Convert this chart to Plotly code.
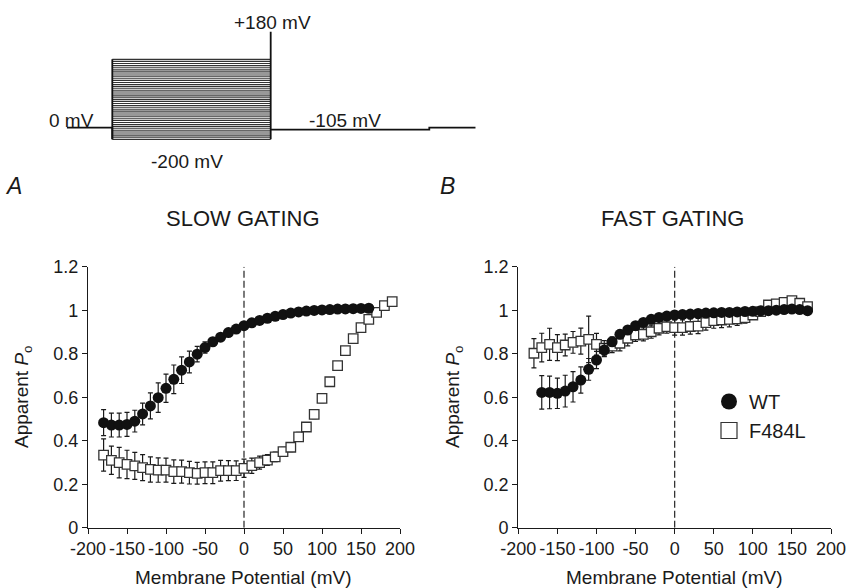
import plotly.graph_objects as go

W, H = 859, 588
FONT = "Liberation Sans, Arial, sans-serif"
INK = "#1a1a1a"

# ---------------- data ----------------
v_A_wt = list(range(-180, 170, 10))
po_A_wt = [0.483, 0.472, 0.472, 0.475, 0.49, 0.523, 0.56, 0.598, 0.641, 0.682, 0.724, 0.762,
           0.798, 0.828, 0.855, 0.876, 0.897, 0.913, 0.929, 0.942, 0.953, 0.963, 0.972, 0.98,
           0.987, 0.992, 0.996, 0.999, 1.001, 1.003, 1.005, 1.006, 1.007, 1.008, 1.009]
err_A_wt = [0.06, 0.055, 0.055, 0.055, 0.05, 0.05, 0.06, 0.068, 0.065, 0.066, 0.061, 0.05,
            0.036, 0.026, 0.018, 0.012, 0.01, 0.008, 0.008, 0.006, 0.006, 0.005, 0.005, 0.005,
            0.005, 0.005, 0.005, 0.005, 0.005, 0.005, 0.005, 0.005, 0.005, 0.005, 0.005]

v_A_mut = list(range(-180, 200, 10))
po_A_mut = [0.334, 0.31, 0.299, 0.291, 0.284, 0.276, 0.268, 0.265, 0.265, 0.258, 0.258, 0.253,
            0.25, 0.253, 0.253, 0.262, 0.262, 0.262, 0.273, 0.285, 0.299, 0.311, 0.326, 0.35,
            0.37, 0.418, 0.463, 0.521, 0.595, 0.671, 0.745, 0.814, 0.869, 0.92, 0.958, 0.99,
            1.021, 1.039]
err_A_mut = [0.074, 0.065, 0.07, 0.065, 0.062, 0.06, 0.058, 0.056, 0.055, 0.054, 0.053, 0.052,
             0.05, 0.05, 0.05, 0.048, 0.046, 0.045, 0.042, 0.035, 0.03, 0.025, 0.022, 0.02,
             0.02, 0.02, 0.02, 0.02, 0.02, 0.018, 0.016, 0.015, 0.012, 0.01, 0.01, 0.01, 0.01, 0.01]

v_B_wt = list(range(-170, 180, 10))
po_B_wt = [0.622, 0.622, 0.618, 0.628, 0.648, 0.679, 0.728, 0.771, 0.817, 0.855, 0.889, 0.909,
           0.929, 0.944, 0.958, 0.967, 0.973, 0.978, 0.98, 0.982, 0.985, 0.987, 0.988, 0.99,
           0.99, 0.992, 0.994, 0.995, 0.997, 0.998, 1.0, 1.003, 1.005, 1.003, 0.998]
err_B_wt = [0.077, 0.075, 0.07, 0.073, 0.07, 0.06, 0.05, 0.04, 0.03, 0.022, 0.018, 0.015,
            0.012, 0.01, 0.01, 0.008, 0.008, 0.006, 0.006, 0.006, 0.006, 0.006, 0.006, 0.006,
            0.006, 0.006, 0.006, 0.006, 0.006, 0.006, 0.006, 0.006, 0.006, 0.006, 0.006]

v_B_mut = list(range(-180, 180, 10))
po_B_mut = [0.802, 0.828, 0.843, 0.828, 0.84, 0.852, 0.858, 0.866, 0.843, 0.825, 0.835, 0.848,
            0.871, 0.886, 0.889, 0.901, 0.917, 0.924, 0.92, 0.92, 0.925, 0.927, 0.943, 0.952,
            0.955, 0.958, 0.96, 0.966, 0.978, 0.993, 1.024, 1.029, 1.036, 1.044, 1.032, 1.016]
err_B_mut = [0.067, 0.066, 0.074, 0.06, 0.05, 0.05, 0.06, 0.107, 0.05, 0.035, 0.03, 0.035,
             0.035, 0.03, 0.03, 0.03, 0.03, 0.03, 0.035, 0.035, 0.035, 0.035, 0.035, 0.035,
             0.035, 0.035, 0.03, 0.025, 0.02, 0.015, 0.01, 0.01, 0.01, 0.01, 0.01, 0.01]

x_ticks = [-200, -150, -100, -50, 0, 50, 100, 150, 200]
x_ticklabels = ["-200", "-150", "-100", "-50", "0", "50", "100", "150", "200"]
y_ticks = [0, 0.2, 0.4, 0.6, 0.8, 1.0, 1.2]
y_ticklabels = ["0", "0.2", "0.4", "0.6", "0.8", "1", "1.2"]

# voltage protocol (schematic drawing units)
proto_steps_mV = list(range(-200, 190, 10))      # test pulses
proto_time = [0, 45.6, 204, 362.6, 409]          # segment boundaries
proto_hold_level = 22.3                           # 0 mV holding
proto_tail_level = 20.3                           # -105 mV tail
proto_step_bottom = 10.7                          # -200 mV
proto_step_top = 90.7                             # top step
proto_spike_top = 118.3                           # +180 mV


def px(x):
    return x / W


def py(y):
    return 1 - y / H


fig = go.Figure()

# ---------- protocol ----------
span = proto_steps_mV[-1] - proto_steps_mV[0]
sx, sy = [], []
for v in proto_steps_mV:
    lvl = proto_step_bottom + (v - proto_steps_mV[0]) / span * (proto_step_top - proto_step_bottom)
    sx += [proto_time[1], proto_time[2], None]
    sy += [lvl, lvl, None]
fig.add_trace(go.Scatter(x=sx, y=sy, mode="lines", line=dict(color="#333", width=1.15),
                         xaxis="x3", yaxis="y3", showlegend=False, hoverinfo="skip"))
outline_x = [proto_time[0], proto_time[1], proto_time[1], None,
             proto_time[1], proto_time[1], None,
             proto_time[2], proto_time[2], None,
             proto_time[2], proto_time[3], proto_time[3], proto_time[4]]
outline_y = [proto_hold_level, proto_hold_level, proto_step_bottom, None,
             proto_step_bottom, proto_step_top, None,
             proto_step_bottom, proto_spike_top, None,
             proto_tail_level, proto_tail_level, proto_hold_level, proto_hold_level]
fig.add_trace(go.Scatter(x=outline_x, y=outline_y, mode="lines",
                         line=dict(color="#111", width=1.8),
                         xaxis="x3", yaxis="y3", showlegend=False, hoverinfo="skip"))

# ---------- data panels ----------
def add_panel(xa, ya, v_mut, po_mut, e_mut, v_wt, po_wt, e_wt):
    fig.add_trace(go.Scatter(x=[0, 0], y=[0, 1.2], mode="lines",
                             line=dict(color="#333", width=1.3, dash="7px,3px"),
                             xaxis=xa, yaxis=ya, showlegend=False, hoverinfo="skip"))
    fig.add_trace(go.Scatter(
        x=v_mut, y=po_mut, mode="markers", xaxis=xa, yaxis=ya, showlegend=False,
        marker=dict(symbol="square", size=9.5, color="white", line=dict(color="#333", width=1.3)),
        error_y=dict(type="data", array=e_mut, color="#1a1a1a", thickness=1.2, width=2.5)))
    fig.add_trace(go.Scatter(
        x=v_wt, y=po_wt, mode="markers", xaxis=xa, yaxis=ya, showlegend=False,
        marker=dict(symbol="circle", size=11, color="#111", line=dict(width=0)),
        error_y=dict(type="data", array=e_wt, color="#1a1a1a", thickness=1.2, width=2.5)))


add_panel("x", "y", v_A_mut, po_A_mut, err_A_mut, v_A_wt, po_A_wt, err_A_wt)
add_panel("x2", "y2", v_B_mut, po_B_mut, err_B_mut, v_B_wt, po_B_wt, err_B_wt)

# legend entries
fig.add_trace(go.Scatter(x=[None], y=[None], mode="markers", name="WT", xaxis="x2", yaxis="y2",
                         marker=dict(symbol="circle", size=16, color="#111")))
fig.add_trace(go.Scatter(x=[None], y=[None], mode="markers", name="F484L", xaxis="x2", yaxis="y2",
                         marker=dict(symbol="square", size=16, color="white",
                                     line=dict(color="#333", width=1.2))))

ydom = [py(527.7), py(266.7)]
ax_common = dict(showline=True, linecolor=INK, linewidth=1.2, ticks="outside", ticklen=5,
                 tickwidth=1.2, tickcolor=INK, showgrid=False, zeroline=False,
                 automargin=False, tickangle=0,
                 tickfont=dict(family=FONT, size=18, color=INK))
xax = dict(ax_common, range=[-200, 200], tickvals=x_ticks, ticktext=x_ticklabels)
yax = dict(ax_common, range=[0, 1.2], tickvals=y_ticks, ticktext=y_ticklabels, domain=ydom)

fig.update_layout(
    width=W, height=H, margin=dict(l=0, r=0, t=0, b=0, autoexpand=False),
    paper_bgcolor="white", plot_bgcolor="white",
    xaxis=dict(xax, domain=[px(88), px(400)], anchor="y"),
    yaxis=dict(yax, anchor="x"),
    xaxis2=dict(xax, domain=[px(518.3), px(831)], anchor="y2"),
    yaxis2=dict(yax, anchor="x2"),
    xaxis3=dict(domain=[px(66.7), px(475.7)], range=[0, 409], visible=False, anchor="y3"),
    yaxis3=dict(domain=[py(150), py(30)], range=[0, 120], visible=False, anchor="x3"),
    showlegend=True,
    legend=dict(x=px(709), y=py(382), xanchor="left", yanchor="top",
                font=dict(family=FONT, size=20, color=INK), bgcolor="rgba(0,0,0,0)",
                tracegroupgap=0, itemwidth=30),
    font=dict(family=FONT, color=INK),
)

ann = []
def text(x, y, s, size=19, **kw):
    ann.append(dict(x=px(x), y=py(y), xref="paper", yref="paper", text=s, showarrow=False,
                    xanchor="center", yanchor="middle",
                    font=dict(family=FONT, size=size, color=INK), **kw))

text(272.5, 22.7, "+180 mV")
text(71, 120, "0 mV")
text(345, 120, "-105 mV")
text(186.7, 162, "-200 mV")
text(14, 186, "<i>A</i>", size=23)
text(448, 186, "<i>B</i>", size=23)
text(243, 218, "SLOW GATING", size=22)
text(672, 218, "FAST GATING", size=22)
text(243, 577, "Membrane Potential (mV)", size=19)
text(674, 577, "Membrane Potential (mV)", size=19)
text(23, 397, "Apparent <i>P</i><sub>o</sub>", size=19, textangle=-90)
text(454, 397, "Apparent <i>P</i><sub>o</sub>", size=19, textangle=-90)
fig.update_layout(annotations=ann)

fig.write_html("out.html", config={"displayModeBar": False},
               post_script="document.body.style.margin='0';document.body.style.overflow='hidden';")
